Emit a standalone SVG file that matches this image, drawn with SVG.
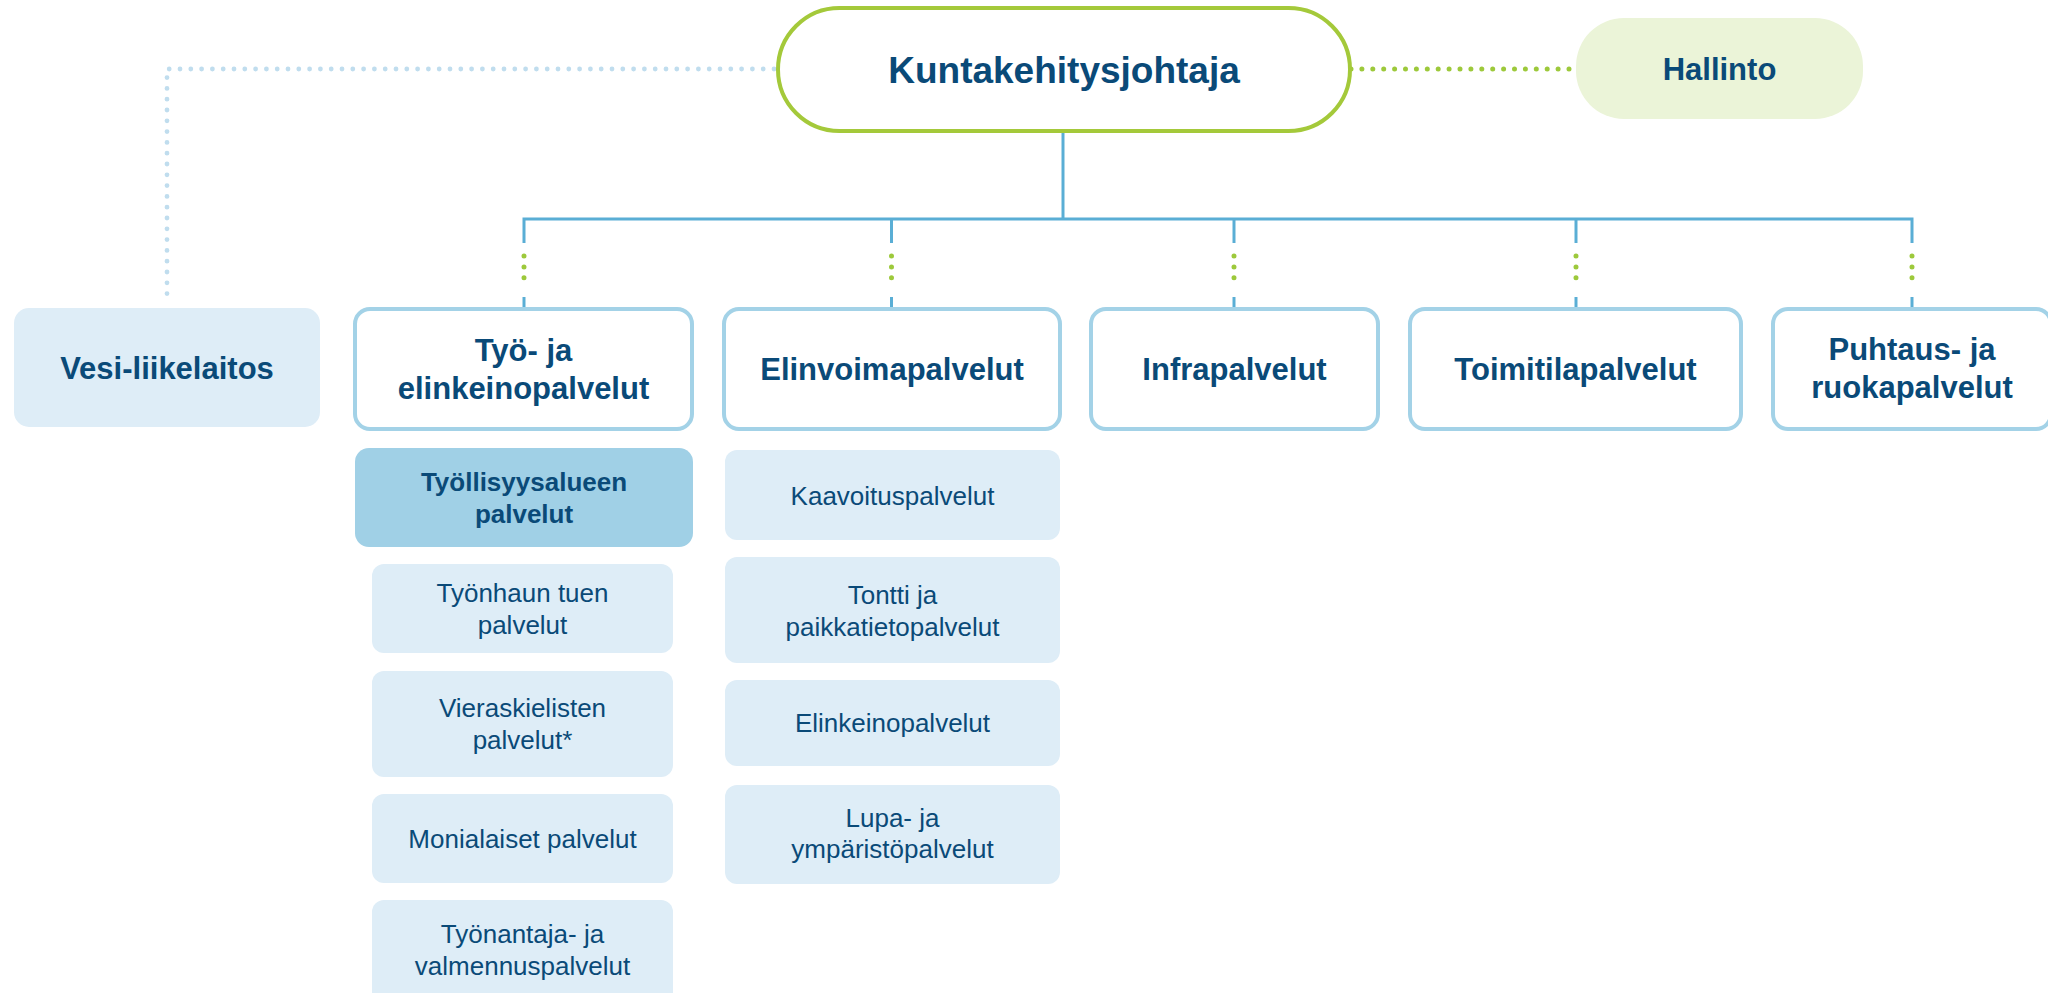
<svg xmlns="http://www.w3.org/2000/svg" width="2048" height="993" viewBox="0 0 2048 993">
<style>
text{font-family:"Liberation Sans",Arial,sans-serif;fill:#0a4a78;text-anchor:middle}
.b{font-weight:bold;font-size:31px}
.t{font-weight:bold;font-size:37px}
.s{font-size:26px}
.sb{font-weight:bold;font-size:26px}
.unit{fill:#ffffff;stroke:#a3d2e7;stroke-width:4}
.lite{fill:#deedf7}
.solid{stroke:#5aaed5;stroke-width:3;fill:none}
.gdot{stroke:#9dc93b;stroke-width:5;stroke-linecap:round;stroke-dasharray:0 10.9;fill:none}
.bdot{stroke:#c0ddee;stroke-width:4.8;stroke-linecap:round;stroke-dasharray:0 10.8;fill:none}
</style>
<rect width="2048" height="993" fill="#ffffff"/>
<g id="connectors">
<polyline class="bdot" points="774,69 167,69 167,302"/>
<line class="gdot" x1="1351" y1="69" x2="1569" y2="69"/>
<polyline class="solid" points="1063,131 1063,219"/>
<polyline class="solid" points="524,243 524,219 1912,219 1912,243"/>
<line class="solid" x1="891.5" y1="219" x2="891.5" y2="243"/>
<line class="solid" x1="1234" y1="219" x2="1234" y2="243"/>
<line class="solid" x1="1576" y1="219" x2="1576" y2="243"/>
<g>
<line class="gdot" x1="524" y1="256" x2="524" y2="278"/>
<line class="gdot" x1="891.5" y1="256" x2="891.5" y2="278"/>
<line class="gdot" x1="1234" y1="256" x2="1234" y2="278"/>
<line class="gdot" x1="1576" y1="256" x2="1576" y2="278"/>
<line class="gdot" x1="1912" y1="256" x2="1912" y2="278"/>
</g>
<line class="solid" x1="524" y1="297" x2="524" y2="308"/>
<line class="solid" x1="891.5" y1="297" x2="891.5" y2="308"/>
<line class="solid" x1="1234" y1="297" x2="1234" y2="308"/>
<line class="solid" x1="1576" y1="297" x2="1576" y2="308"/>
<line class="solid" x1="1912" y1="297" x2="1912" y2="308"/>
</g>
<g id="kuntakehitysjohtaja">
<rect x="778" y="8" width="572" height="123" rx="61.5" fill="#ffffff" stroke="#a4c93a" stroke-width="4"/>
<text class="t" x="1064" y="82.5">Kuntakehitysjohtaja</text>
</g>
<g id="hallinto">
<rect x="1576" y="18" width="287" height="101" rx="48" fill="#ebf4d8"/>
<text class="b" x="1719.5" y="80">Hallinto</text>
</g>
<g id="vesi">
<rect class="lite" x="14" y="308" width="306" height="119" rx="15"/>
<text class="b" x="167" y="378.5">Vesi-liikelaitos</text>
</g>
<g id="tyo-ja-elinkeino">
<rect class="unit" x="355" y="309" width="337" height="120" rx="15"/>
<text class="b" x="523.5" y="361">Työ- ja</text>
<text class="b" x="523.5" y="399">elinkeinopalvelut</text>
</g>
<g id="elinvoima">
<rect class="unit" x="724" y="309" width="336" height="120" rx="15"/>
<text class="b" x="892" y="380">Elinvoimapalvelut</text>
</g>
<g id="infra">
<rect class="unit" x="1091" y="309" width="287" height="120" rx="15"/>
<text class="b" x="1234.5" y="380">Infrapalvelut</text>
</g>
<g id="toimitila">
<rect class="unit" x="1410" y="309" width="331" height="120" rx="15"/>
<text class="b" x="1575.5" y="380">Toimitilapalvelut</text>
</g>
<g id="puhtaus">
<rect class="unit" x="1773" y="309" width="278" height="120" rx="15"/>
<text class="b" x="1912" y="360">Puhtaus- ja</text>
<text class="b" x="1912" y="398">ruokapalvelut</text>
</g>
<g id="tyollisyysalue">
<rect x="355" y="448" width="338" height="99" rx="14" fill="#a0d0e6"/>
<text class="sb" x="524" y="491">Työllisyysalueen</text>
<text class="sb" x="524" y="523">palvelut</text>
</g>
<g id="tyonhaku">
<rect class="lite" x="372" y="564" width="301" height="89" rx="12"/>
<text class="s" x="522.5" y="602">Työnhaun tuen</text>
<text class="s" x="522.5" y="634">palvelut</text>
</g>
<g id="vieraskieliset">
<rect class="lite" x="372" y="671" width="301" height="106" rx="12"/>
<text class="s" x="522.5" y="717">Vieraskielisten</text>
<text class="s" x="522.5" y="749">palvelut*</text>
</g>
<g id="monialaiset">
<rect class="lite" x="372" y="794" width="301" height="89" rx="12"/>
<text class="s" x="522.5" y="848">Monialaiset palvelut</text>
</g>
<g id="tyonantaja">
<rect class="lite" x="372" y="900" width="301" height="110" rx="12"/>
<text class="s" x="522.5" y="943">Työnantaja- ja</text>
<text class="s" x="522.5" y="975">valmennuspalvelut</text>
</g>
<g id="kaavoitus">
<rect class="lite" x="725" y="450" width="335" height="90" rx="12"/>
<text class="s" x="892.5" y="505">Kaavoituspalvelut</text>
</g>
<g id="tontti">
<rect class="lite" x="725" y="557" width="335" height="106" rx="12"/>
<text class="s" x="892.5" y="604">Tontti ja</text>
<text class="s" x="892.5" y="636">paikkatietopalvelut</text>
</g>
<g id="elinkeino">
<rect class="lite" x="725" y="680" width="335" height="86" rx="12"/>
<text class="s" x="892.5" y="732">Elinkeinopalvelut</text>
</g>
<g id="lupa">
<rect class="lite" x="725" y="785" width="335" height="99" rx="12"/>
<text class="s" x="892.5" y="827">Lupa- ja</text>
<text class="s" x="892.5" y="858">ympäristöpalvelut</text>
</g>
</svg>
